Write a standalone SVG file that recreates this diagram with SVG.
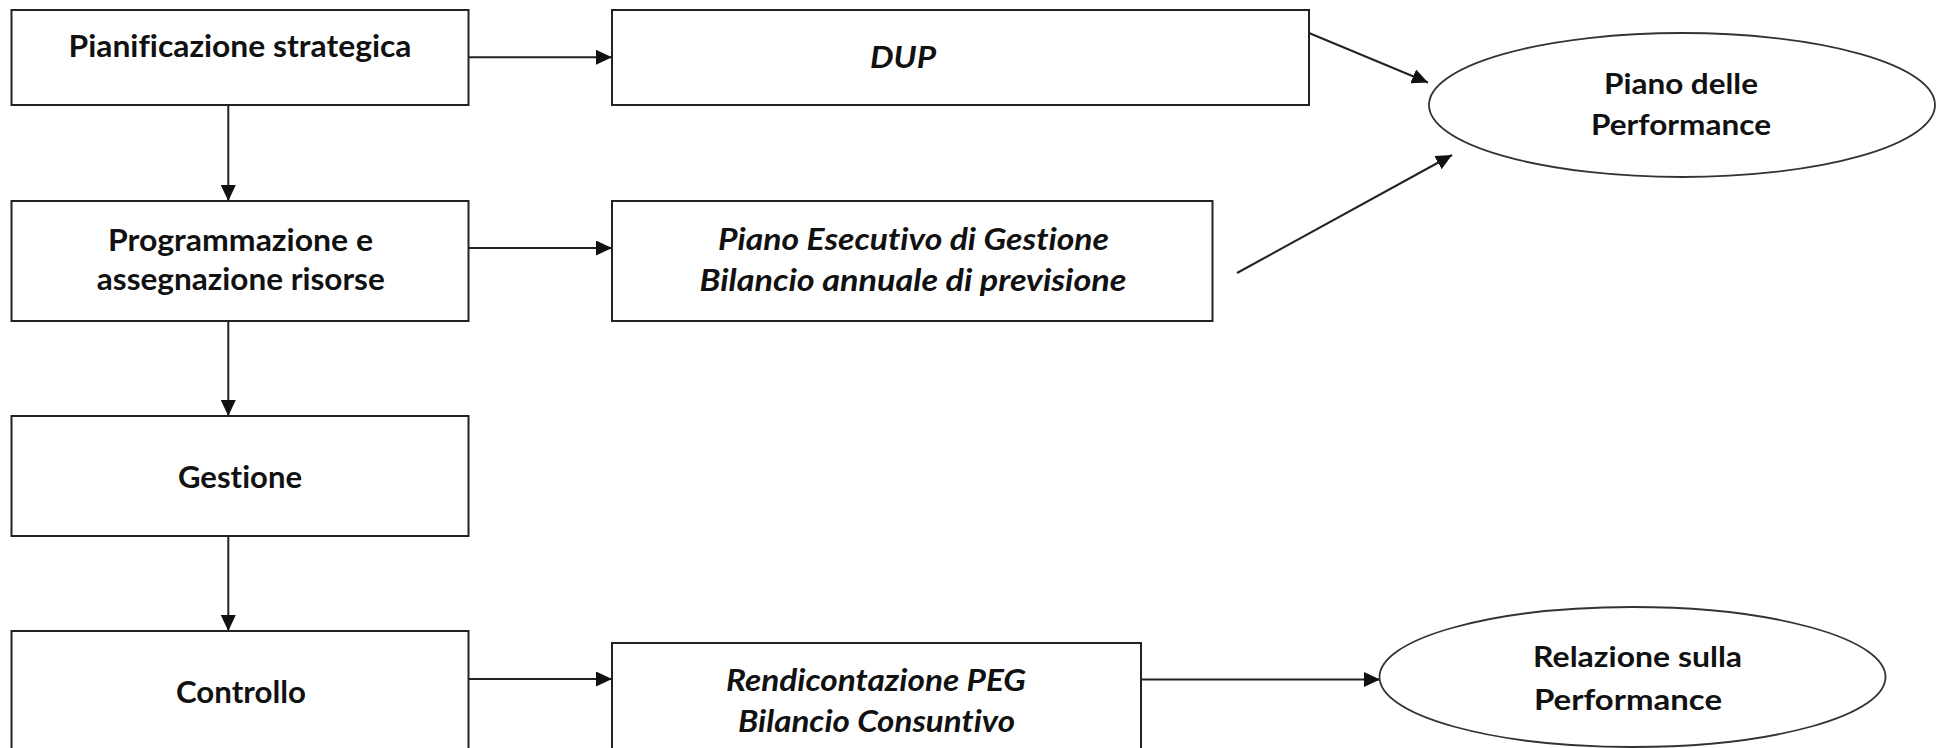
<svg xmlns="http://www.w3.org/2000/svg" width="1943" height="748" viewBox="0 0 1943 748">
<style>
.box{fill:#fff;stroke:#222;stroke-width:2}
.ell{fill:#fff;stroke:#333;stroke-width:1.8}
.t{font-family:Lato,"Open Sans","Liberation Sans",sans-serif;font-weight:700;font-size:31px;fill:#111;text-anchor:middle;font-variant-ligatures:none;font-feature-settings:"liga" 0,"clig" 0}
.i{font-style:italic}
.e{font-size:28px}
.c{fill:none;stroke:#222;stroke-width:2}
</style>
<defs>
<marker id="ah" markerUnits="userSpaceOnUse" markerWidth="17" markerHeight="15" refX="16" refY="7.5" orient="auto">
<path d="M0,0 L16,7.5 L0,15 Z" fill="#111"/>
</marker>
</defs>
<rect width="1943" height="748" fill="#fff"/>
<g id="connectors">
<line class="c" x1="468" y1="57.3" x2="612" y2="57.3" marker-end="url(#ah)"/>
<line class="c" x1="228.3" y1="105" x2="228.3" y2="201" marker-end="url(#ah)"/>
<line class="c" x1="468" y1="248" x2="612" y2="248" marker-end="url(#ah)"/>
<line class="c" x1="228.3" y1="321" x2="228.3" y2="416" marker-end="url(#ah)"/>
<line class="c" x1="228.3" y1="536" x2="228.3" y2="631" marker-end="url(#ah)"/>
<line class="c" x1="468" y1="679" x2="612" y2="679" marker-end="url(#ah)"/>
<line class="c" x1="1309" y1="33" x2="1428" y2="82.5" marker-end="url(#ah)"/>
<line class="c" x1="1237" y1="273" x2="1452" y2="155" marker-end="url(#ah)"/>
<line class="c" x1="1141" y1="679.5" x2="1380" y2="679.5" marker-end="url(#ah)"/>
</g>
<g id="pianificazione">
<rect class="box" x="11.5" y="10" width="457" height="95"/>
<text class="t" x="240" y="57" textLength="343" lengthAdjust="spacingAndGlyphs">Pianificazione strategica</text>
</g>
<g id="programmazione">
<rect class="box" x="11.5" y="201" width="457" height="120"/>
<text class="t" x="240.5" y="251" textLength="265" lengthAdjust="spacingAndGlyphs">Programmazione e</text>
<text class="t" x="240.8" y="290" textLength="288" lengthAdjust="spacingAndGlyphs">assegnazione risorse</text>
</g>
<g id="gestione">
<rect class="box" x="11.5" y="416" width="457" height="120"/>
<text class="t" x="240" y="488" textLength="124" lengthAdjust="spacingAndGlyphs">Gestione</text>
</g>
<g id="controllo">
<rect class="box" x="11.5" y="631" width="457" height="140"/>
<text class="t" x="241" y="703" textLength="130" lengthAdjust="spacingAndGlyphs">Controllo</text>
</g>
<g id="dup">
<rect class="box" x="612" y="10" width="697" height="95"/>
<text class="t i" x="903" y="68" textLength="66" lengthAdjust="spacingAndGlyphs">DUP</text>
</g>
<g id="peg">
<rect class="box" x="612" y="201" width="600.5" height="120"/>
<text class="t i" x="913.5" y="250" textLength="391" lengthAdjust="spacingAndGlyphs">Piano Esecutivo di Gestione</text>
<text class="t i" x="913" y="291" textLength="427" lengthAdjust="spacingAndGlyphs">Bilancio annuale di previsione</text>
</g>
<g id="rendicontazione">
<rect class="box" x="612" y="643" width="529" height="130"/>
<text class="t i" x="876" y="690.7" textLength="300" lengthAdjust="spacingAndGlyphs">Rendicontazione PEG</text>
<text class="t i" x="876.5" y="732" textLength="277" lengthAdjust="spacingAndGlyphs">Bilancio Consuntivo</text>
</g>
<g id="piano-performance">
<ellipse class="ell" cx="1682" cy="105" rx="253" ry="72"/>
<text class="t e" x="1681" y="94" textLength="154" lengthAdjust="spacingAndGlyphs">Piano delle</text>
<text class="t e" x="1681" y="135" textLength="180" lengthAdjust="spacingAndGlyphs">Performance</text>
</g>
<g id="relazione-performance">
<ellipse class="ell" cx="1632.5" cy="677" rx="253" ry="70"/>
<text class="t e" x="1637.6" y="666.7" textLength="209" lengthAdjust="spacingAndGlyphs">Relazione sulla</text>
<text class="t e" x="1628" y="710" textLength="188" lengthAdjust="spacingAndGlyphs">Performance</text>
</g>
</svg>
